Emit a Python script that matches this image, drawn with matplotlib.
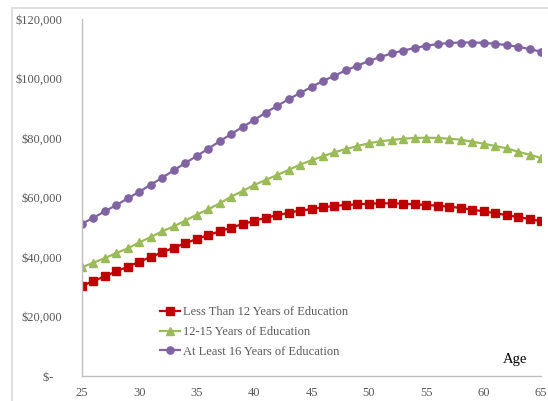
import matplotlib
matplotlib.use("Agg")
from matplotlib import pyplot as plt
from matplotlib.patches import Rectangle
from matplotlib.ticker import FuncFormatter

plt.rcParams['font.family'] = ['Liberation Serif', 'DejaVu Serif']

age = list(range(25, 66))

# annual earnings by age, three education groups
less_than_12 = [30250, 31930, 33510, 35190, 36740, 38420, 40000, 41580, 43130, 44600,
                46050, 47390, 48640, 49850, 51090, 52100, 53220, 54010, 54900, 55570,
                56130, 56700, 57140, 57480, 57710, 57920, 58040, 58040, 57920, 57710,
                57480, 57250, 56910, 56470, 55900, 55360, 54690, 54120, 53440, 52770,
                52000]
years_12_15 = [36540, 38090, 39660, 41340, 42910, 44930, 46720, 48630, 50310, 52210,
               54230, 56020, 58040, 60270, 62180, 64200, 65880, 67560, 69240, 71030,
               72500, 73850, 75190, 76300, 77310, 78220, 78890, 79330, 79760, 80000,
               80100, 80000, 79760, 79430, 78760, 78080, 77310, 76540, 75390, 74390,
               73280]
at_least_16 = [51190, 53210, 55360, 57480, 59730, 61950, 64300, 66660, 69140, 71600,
               73950, 76400, 78890, 81340, 83700, 86050, 88500, 90760, 93010, 95120,
               97140, 99160, 100940, 102750, 104300, 105880, 107220, 108470, 109410, 110250,
               111020, 111590, 111930, 112100, 112100, 112000, 111660, 111260, 110650, 109910,
               109010]

labels = ['Less Than 12 Years of Education',
          '12-15 Years of Education',
          'At Least 16 Years of Education']

fig = plt.figure(figsize=(5.48, 4.01), dpi=100)
# outer chart border
fig.patches.append(Rectangle((12 / 548, -0.1), 1.2, 1 - 8 / 401 + 0.1, transform=fig.transFigure,
                             fill=False, edgecolor='#d9d9d9', linewidth=1.2))

ax = fig.add_axes([82 / 548, 1 - 376 / 401, (541 - 82) / 548, (376 - 19) / 401])

ax.plot(age, less_than_12, color='#c00000', marker='s', markersize=5.2, linewidth=1.6,
        label=labels[0])
ax.plot(age, years_12_15, color='#9bbb59', marker='^', markersize=5.8, linewidth=1.6,
        label=labels[1])
ax.plot(age, at_least_16, color='#8064a2', marker='o', markersize=5.2, linewidth=1.6,
        label=labels[2])

ax.set_xlim(25, 65)
ax.set_ylim(0, 120000)
ax.set_xticks(range(25, 66, 5))
ax.set_yticks(range(0, 120001, 20000))


def money(v, pos):
    if v == 0:
        return '$-   '
    return '${:,.0f}'.format(v)


ax.yaxis.set_major_formatter(FuncFormatter(money))
ax.tick_params(axis='both', length=0, labelsize=9, labelcolor='#595959')
ax.tick_params(axis='y', pad=14)
ax.tick_params(axis='x', pad=8)

for side in ['top', 'right']:
    ax.spines[side].set_visible(False)
for side in ['left', 'bottom']:
    ax.spines[side].set_color('#bfbfbf')
    ax.spines[side].set_linewidth(1.0)

ax.text(515 / 548, 1 - 359 / 401, 'Age', transform=fig.transFigure, ha='center', va='center',
        fontsize=10.5, color='black')

leg = ax.legend(loc='upper left', bbox_to_anchor=(154 / 548, 1 - 300 / 401),
                bbox_transform=fig.transFigure, frameon=False, fontsize=9,
                handlelength=1.6, handletextpad=0.25, labelspacing=0.62, borderpad=0)
for t in leg.get_texts():
    t.set_color('#595959')

fig.savefig('out.png', dpi=100)
